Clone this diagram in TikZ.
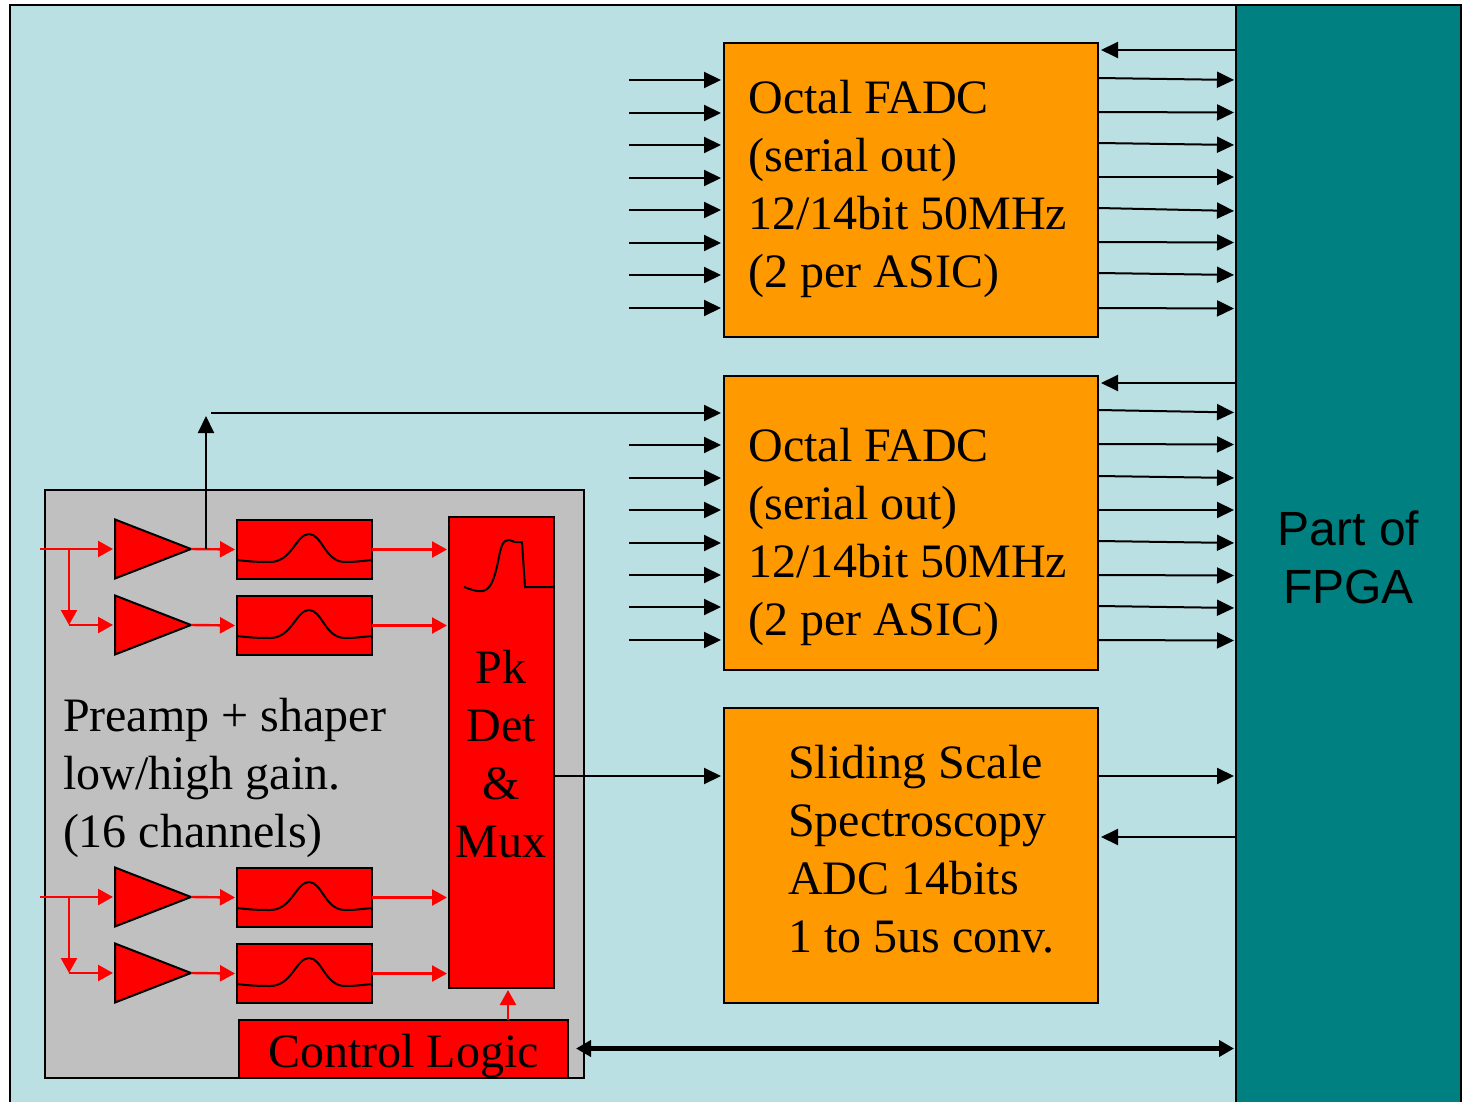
\documentclass[tikz,border=0pt]{standalone}
\usepackage{fontspec}
\setmainfont{Liberation Serif}
\newfontfamily\arialfont{Liberation Sans}
\usetikzlibrary{arrows.meta,calc}
\definecolor{bgblue}{HTML}{BBE0E3}
\definecolor{fpgateal}{HTML}{008080}
\definecolor{adcorange}{HTML}{FF9900}
\definecolor{asicgrey}{HTML}{C0C0C0}
\tikzset{
  boxbase/.style={draw=black,line width=2pt,anchor=north west,inner sep=0pt,outer sep=0pt},
  adcbox/.style={boxbase,fill=adcorange,minimum width=374pt,minimum height=294pt},
  redbox/.style={boxbase,fill=red},
  shaperbox/.style={redbox,minimum width=135pt,minimum height=59pt},
  ampshape/.style={fill=red,draw=black,line width=2pt,line join=miter},
  big/.style={font=\fontsize{48}{58}\selectfont,inner sep=0pt,outer sep=0pt},
  txtl/.style={big,align=left,anchor=west},
  txtc/.style={big,align=center,anchor=center},
  blk/.style={draw=black,line width=2pt,-{Triangle[length=17pt,width=16pt]},shorten >=3pt},
  blkr/.style={draw=black,line width=2pt,-{Triangle[length=17pt,width=16pt]},shorten >=2pt},
  red arrow/.style={draw=red,line width=2.4pt,-{Triangle[length=15pt,width=16pt]},shorten >=2pt},
  thick bi/.style={draw=black,line width=5.5pt,{Triangle[length=15pt,width=16pt]}-{Triangle[length=15pt,width=16pt]},shorten >=2pt,shorten <=2pt},
  curve/.style={draw=black,line width=2pt},
}
\newcommand{\ampl}[2]{%
  \draw[ampshape] (115,#2-29.5) -- (115,#2+29.5) -- (191,#2) -- cycle;
  \coordinate (#1in) at (115,#2);
  \coordinate (#1out) at (191,#2);
}
\newcommand{\pulse}[1]{%
  \draw[curve] ($(#1.north west)+(0,40)$) .. controls +(12,1.5) and +(-12,0) ..
    ($(#1.north west)+(33,42)$) .. controls +(22,0) and +(-13,0) ..
    ($(#1.north west)+(72,14)$) .. controls +(13,0) and +(-20,0) ..
    ($(#1.north west)+(108,42)$) .. controls +(10,0) and +(-10,1) ..
    ($(#1.north west)+(135,40)$);
}
\begin{document}
\begin{tikzpicture}[x=1pt,y=-1pt]
\useasboundingbox (0,0) rectangle (1463,1102);
% background and frame
\fill[bgblue] (10,5) rectangle (1461,1102);
\node[boxbase,draw=none,fill=fpgateal,minimum width=225pt,minimum height=1097pt] (fpga) at (1236,5) {};
\draw[black,line width=2pt] (10,1102) -- (10,5) -- (1461,5) -- (1461,1102);
\draw[black,line width=2pt] (fpga.north west) -- (fpga.south west);
\node[txtc,font=\arialfont\fontsize{48}{58}\selectfont] (fpgatxt) at (1348.5,557) {Part of\\FPGA};
% converters
\node[adcbox] (fadca) at (724,43) {};
\node[adcbox] (fadcb) at (724,376) {};
\node[adcbox,minimum height=295pt] (ssadc) at (724,708) {};
\node[txtl] (fadcatxt) at (748.5,188.5) {Octal FADC\\(serial out)\\12/14bit 50MHz\\(2 per ASIC)};
\node[txtl] (fadcbtxt) at (748.5,536.5) {Octal FADC\\(serial out)\\12/14bit 50MHz\\(2 per ASIC)};
\node[txtl] (ssadctxt) at (788,849) {Sliding Scale\\Spectroscopy\\ADC 14bits\\1 to 5us conv.};
% ASIC
\node[boxbase,fill=asicgrey,minimum width=539pt,minimum height=588pt] (asic) at (45,490) {};
\node[txtl] (asictxt) at (63,778) {Preamp + shaper\\low/high gain.\\(16 channels)};
\node[shaperbox] (sa) at (237,520) {};
\node[shaperbox] (sb) at (237,596) {};
\node[shaperbox] (sc) at (237,868) {};
\node[shaperbox] (sd) at (237,944) {};
\pulse{sa}\pulse{sb}\pulse{sc}\pulse{sd}
\node[redbox,minimum width=105pt,minimum height=471pt] (pk) at (449,517) {};
\node[txtc] (pktxt) at (501,754) {Pk\\Det\\\&\\Mux};
\node[redbox,minimum width=329pt,minimum height=58pt] (ctl) at (239,1020) {};
\node[txtc] (ctltxt) at (403.5,1056) {Control Logic};
\draw[curve] (464,587) .. controls (472,590) and (478,592) .. (483,591) .. controls (492,589) and (495,575) .. (498,562) .. controls (501,545) and (503,540) .. (509,540) .. controls (512,540) and (512,542) .. (515,542) -- (522,542) -- (525,587) -- (pk.east |- 0,587);
\ampl{aa}{549}
\ampl{ab}{625}
\ampl{ac}{897}
\ampl{ad}{973}
% analog inputs and chain
\coordinate (ina) at (40,549);
\coordinate (inc) at (40,897);
\coordinate (bra) at (69,549);
\coordinate (brb) at (69,625);
\coordinate (brc) at (69,897);
\coordinate (brd) at (69,973);
\foreach \u/\v/\b in {bra/brb/ab,brc/brd/ad}{
  \draw[red arrow,shorten >=0pt] (\u) -- (\v);
  \draw[red arrow] (\v) -- (\b in);
}
\draw[red arrow] (ina) -- (aain);
\draw[red arrow] (inc) -- (acin);
\foreach \a/\s in {aa/sa,ab/sb,ac/sc,ad/sd}{
  \draw[red arrow] (\a out) -- (\s.west);
  \draw[red arrow] (\s.east) -- (pk.west |- \s.east);
}
\coordinate (ctlup) at (508,1020);
\draw[red arrow] (ctlup) -- (pk.south -| ctlup);
% black tap to second FADC
\coordinate (tap) at (206,549);
\coordinate (tapup) at (206,416);
\coordinate (tapr) at (211,413);
\draw[blk,shorten >=0pt] (tap) -- (tapup);
\draw[blk] (tapr) -- (fadcb.west |- tapr);
% FADC inputs
\foreach \y [count=\i] in {80,113,145,178,210,243,275,308}{
  \coordinate (ia\i) at (629,\y);
  \draw[blk] (ia\i) -- (fadca.west |- ia\i);
}
\foreach \y [count=\i] in {445,478,510,543,575,607,640}{
  \coordinate (ib\i) at (629,\y);
  \draw[blk] (ib\i) -- (fadcb.west |- ib\i);
}
% FADC outputs
\foreach \ya/\yb in {78/80,112/112.5,143/145,177/177,208/211,242/242.5,273/275,308/308.5}{
  \coordinate (ra) at (0,\ya);
  \coordinate (rb) at (0,\yb);
  \draw[blkr] (fadca.east |- ra) -- (fpga.west |- rb);
}
\foreach \ya/\yb in {410/412.5,444/444.5,476/478,510/510,541/543,575/575.5,606/608,640/640.5}{
  \coordinate (ra) at (0,\ya);
  \coordinate (rb) at (0,\yb);
  \draw[blkr] (fadcb.east |- ra) -- (fpga.west |- rb);
}
% back channels
\coordinate (ca) at (0,50);
\coordinate (cb) at (0,383);
\coordinate (cc) at (0,837);
\draw[blk] (fpga.west |- ca) -- (fadca.east |- ca);
\draw[blk] (fpga.west |- cb) -- (fadcb.east |- cb);
\draw[blk] (fpga.west |- cc) -- (ssadc.east |- cc);
% spectroscopy ADC
\coordinate (sl) at (0,776);
\draw[blk] (pk.east |- sl) -- (ssadc.west |- sl);
\draw[blkr] (ssadc.east |- sl) -- (fpga.west |- sl);
% control bus
\coordinate (bus) at (0,1048.5);
\coordinate (busa) at (574,1048.5);
\draw[thick bi] (busa) -- (fpga.west |- bus);
\end{tikzpicture}
\end{document}
